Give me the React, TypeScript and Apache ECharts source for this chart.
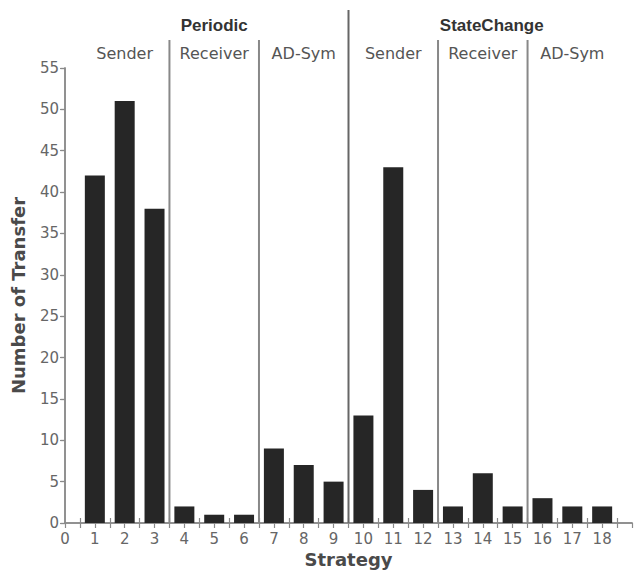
import React, { useEffect, useRef } from "react";
import * as echarts from "echarts";

const strategies = [1, 2, 3, 4, 5, 6, 7, 8, 9, 10, 11, 12, 13, 14, 15, 16, 17, 18];
const transfers = [42, 51, 38, 2, 1, 1, 9, 7, 5, 13, 43, 4, 2, 6, 2, 3, 2, 2];
const groupNames = ["Periodic", "StateChange"];
const groupCenters = [5, 14.3];
const subGroupNames = ["Sender", "Receiver", "AD-Sym", "Sender", "Receiver", "AD-Sym"];
const subGroupCenters = [2, 5, 8, 11, 14, 17];
const separators = [3.5, 6.5, 9.5, 12.5, 15.5];
const majorSeparator = 9.5;

const FONT = "DejaVu Sans";

export default function App() {
  const ref = useRef<HTMLDivElement>(null);
  useEffect(() => {
    if (!ref.current) return;
    const chart = echarts.init(ref.current, null, { renderer: "svg" });
    const gridTop = 68;
    const axisColor = "#8a8a8a";
    const labelColor = "#666";
    chart.setOption({
      animation: false,
      backgroundColor: "#fff",
      grid: { left: 65, right: 9, top: gridTop, bottom: 51, containLabel: false, outerBoundsMode: "none" },
      xAxis: [
        {
          type: "value",
          min: 0,
          max: 19,
          interval: 1,
          position: "bottom",
          name: "Strategy",
          nameLocation: "middle",
          nameGap: 27,
          nameTextStyle: { fontFamily: FONT, fontSize: 18, color: "#4a4a4a", fontWeight: "bold" },
          axisLine: { show: true, lineStyle: { color: axisColor, width: 1.5 } },
          axisTick: { show: false, inside: true },
          minorTick: { show: true, splitNumber: 2, length: 5, lineStyle: { color: axisColor, width: 1.2 } },
          axisLabel: {
            fontFamily: FONT,
            fontSize: 15,
            color: labelColor,
            margin: 8,
            formatter: (v: number) => (v <= 18 ? String(v) : ""),
          },
          splitLine: { show: false },
          minorSplitLine: { show: false },
        },
        {
          type: "value",
          min: 0,
          max: 19,
          interval: 1,
          position: "top",
          axisLine: { show: true, lineStyle: { color: axisColor, width: 1.5 } },
          axisTick: { show: true, inside: true, length: 5, lineStyle: { color: axisColor, width: 1.2 } },
          minorTick: { show: true, splitNumber: 2, length: 5, lineStyle: { color: axisColor, width: 1.2 } },
          axisLabel: { show: false },
          splitLine: { show: false },
        },
      ],
      yAxis: [
        {
          type: "value",
          min: 0,
          max: 55,
          interval: 5,
          position: "left",
          name: "Number of Transfer",
          nameLocation: "middle",
          nameGap: 38,
          nameRotate: 90,
          nameTextStyle: { fontFamily: FONT, fontSize: 18, color: "#4a4a4a", fontWeight: "bold" },
          axisLine: { show: true, lineStyle: { color: axisColor, width: 1.5 } },
          axisTick: { show: true, inside: false, length: 4, lineStyle: { color: axisColor, width: 1.2 } },
          axisLabel: { fontFamily: FONT, fontSize: 15, color: labelColor, margin: 6 },
          splitLine: { show: false },
        },
        {
          type: "value",
          min: 0,
          max: 55,
          interval: 5,
          position: "right",
          axisLine: { show: true, lineStyle: { color: axisColor, width: 1.5 } },
          axisTick: { show: true, inside: true, length: 5, lineStyle: { color: axisColor, width: 1.2 } },
          axisLabel: { show: false },
          splitLine: { show: false },
        },
      ],
      series: [
        {
          type: "bar",
          xAxisIndex: 0,
          yAxisIndex: 0,
          barWidth: 20,
          itemStyle: { color: "#262626" },
          data: strategies.map((s, i) => [s, transfers[i]]),
        },
      ],
    });

    const px = (v: number) => chart.convertToPixel({ xAxisIndex: 0 }, v) as number;
    const bottomY = chart.convertToPixel({ yAxisIndex: 0 }, 0) as number;
    const graphics: any[] = [];
    separators.forEach((s) => {
      const x = px(s);
      const major = s === majorSeparator;
      graphics.push({
        type: "line",
        shape: { x1: x, y1: major ? 10 : 40, x2: x, y2: bottomY },
        style: { stroke: major ? "#666" : "#888", lineWidth: 2 },
        z: 10,
      });
    });
    groupNames.forEach((n, i) => {
      graphics.push({
        type: "text",
        x: px(groupCenters[i]),
        y: 25,
        style: {
          text: n,
          fontFamily: "Liberation Sans",
          fontSize: 17,
          fontWeight: "bold",
          fill: "#333",
          align: "center",
          verticalAlign: "middle",
        },
      });
    });
    subGroupNames.forEach((n, i) => {
      graphics.push({
        type: "text",
        x: px(subGroupCenters[i]),
        y: 53,
        style: {
          text: n,
          fontFamily: FONT,
          fontSize: 16,
          fill: "#555",
          align: "center",
          verticalAlign: "middle",
        },
      });
    });
    chart.setOption({ graphic: graphics });

    return () => chart.dispose();
  }, []);
  return (
    <div
      ref={ref}
      style={{ position: "fixed", left: 0, top: 0, width: 641, height: 574 }}
    />
  );
}
